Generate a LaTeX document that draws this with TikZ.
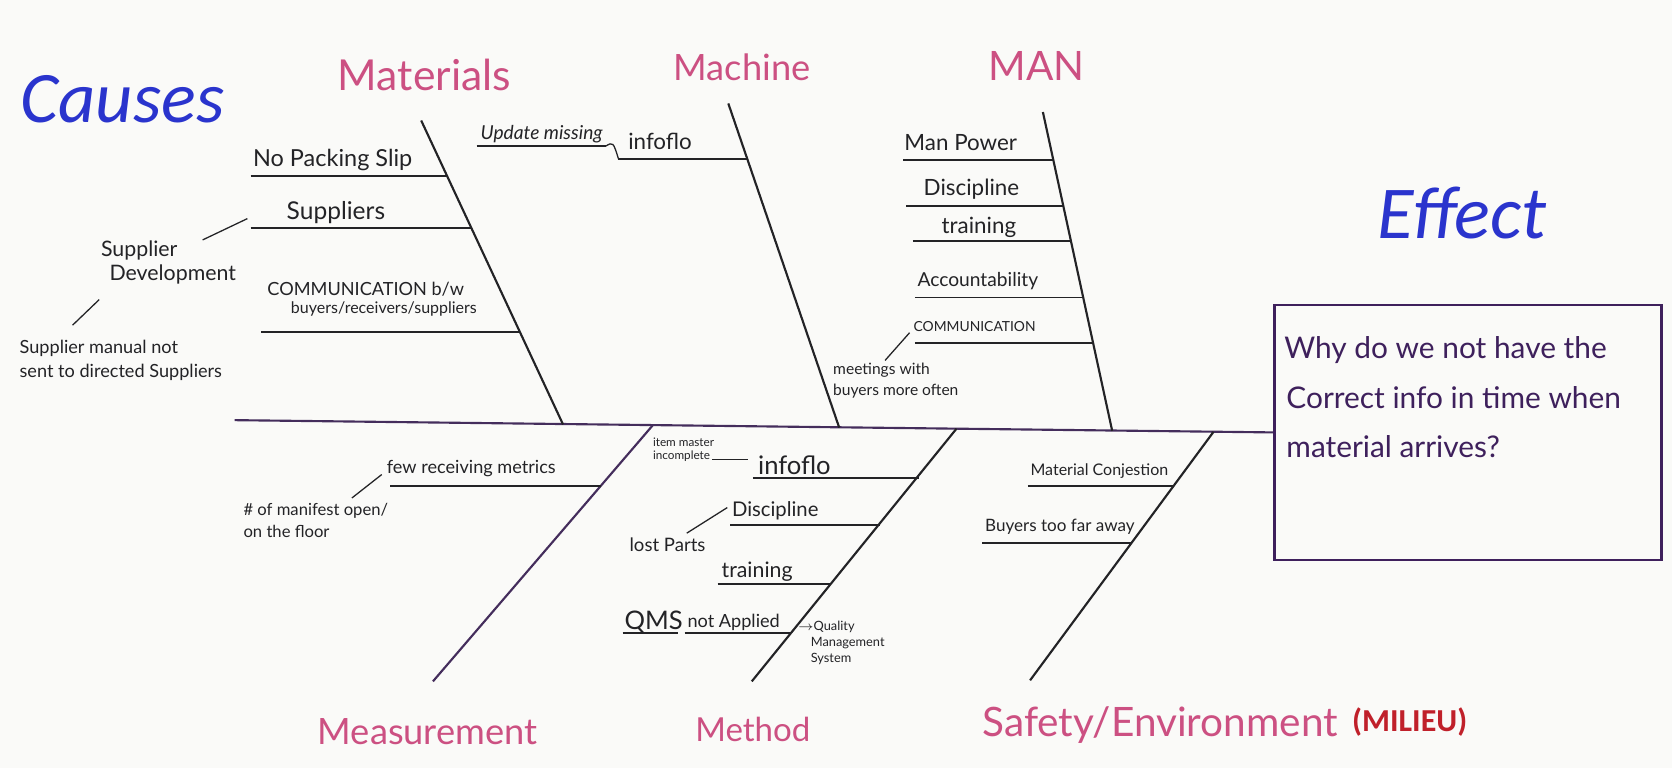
\documentclass[tikz,border=0pt]{standalone}
\usepackage{fontspec}
\setmainfont{Lato}
\newfontfamily\calib{Carlito}
\definecolor{paper}{RGB}{250,250,248}
\definecolor{ink}{RGB}{35,35,38}
\definecolor{violetink}{RGB}{68,45,92}
\definecolor{labelpink}{RGB}{204,80,130}
\definecolor{titleblue}{RGB}{42,52,205}
\definecolor{milieured}{RGB}{192,32,42}
\definecolor{qpurple}{RGB}{62,32,92}
\tikzset{
  title/.style={inner sep=0pt, text=titleblue, font=\calib\itshape\fontsize{#1}{#1}\selectfont},
  cat/.style={inner sep=0pt, text=labelpink, font=\fontsize{#1}{#1}\selectfont},
  hw/.style={inner sep=0pt, text=ink, font=\fontsize{#1}{#1}\selectfont},
  bone/.style={draw=ink, line width=1pt},
  lowbone/.style={draw=violetink, line width=1pt},
  rib/.style={draw=ink, line width=0.9pt},
  lead/.style={draw=ink, line width=0.6pt},
}
\begin{document}
\begin{tikzpicture}[x=0.5pt,y=-0.5pt]
\useasboundingbox (0,0) rectangle (1568,720);
\fill[paper] (0,0) rectangle (1568,720);

% titles
\node[title=34] (causes) at (115,93) {Causes};
\node[title=35] (effect) at (1371,200) {Effect};

% effect box
\node[draw=qpurple, line width=1.2pt, minimum width=181.5pt, minimum height=119.5pt, inner sep=0pt] (effectbox) at (1376.5,405.5) {};
\node[inner sep=0pt, text=qpurple, font=\fontsize{14}{14}\selectfont, anchor=west] (q1) at (1204,328) {Why do we not have the};
\node[inner sep=0pt, text=qpurple, font=\fontsize{14}{14}\selectfont, anchor=west] (q2) at (1206,373) {Correct info in time when};
\node[inner sep=0pt, text=qpurple, font=\fontsize{14}{14}\selectfont, anchor=west] (q3) at (1206,419) {material arrives?};

% spine
\coordinate (spineL) at (220,394);
\draw[lowbone] (spineL) -- (effectbox.west);

% bones
\coordinate (matT) at (395,113); \coordinate (matB) at (528,398);
\coordinate (macT) at (683,97);  \coordinate (macB) at (787,401);
\coordinate (manT) at (978,105); \coordinate (manB) at (1043,404);
\coordinate (meaT) at (612,399); \coordinate (meaB) at (406,639);
\coordinate (metT) at (897,402); \coordinate (metB) at (705,639);
\coordinate (safT) at (1138,405); \coordinate (safB) at (966,638);
\draw[bone] (matT) -- (matB);
\draw[bone] (macT) -- (macB);
\draw[bone] (manT) -- (manB);
\draw[lowbone] (meaT) -- (meaB);
\draw[bone] (metT) -- (metB);
\draw[bone] (safT) -- (safB);

% category labels
\node[cat=20] (materials) at (398,70) {Materials};
\node[cat=17] (machine) at (696,63) {Machine};
\node[cat=19] (man) at (972,62) {MAN};
\node[cat=17] (measurement) at (401,686) {Measurement};
\node[cat=15.5] (method) at (706,684) {Method};
\node[cat=19] (safety) at (1088,680) {Safety/Environment};
\node[inner sep=0pt, text=milieured, font=\calib\bfseries\fontsize{15}{15}\selectfont] (milieu) at (1322,677) {(MILIEU)};

% Materials ribs
\coordinate (npsS) at (235,165); \coordinate (npsE) at (419.4,165);
\coordinate (supS) at (235,214); \coordinate (supE) at (442.3,214);
\coordinate (comS) at (245,311); \coordinate (comE) at (487.7,311);
\draw[rib] (npsS) -- (npsE);
\draw[rib] (supS) -- (supE);
\draw[rib] (comS) -- (comE);
\node[hw=11] (nps) at (312,150) {No Packing Slip};
\node[hw=11.5] (sup) at (315,199) {Suppliers};
\node[hw=8.5] (com1) at (343,271) {COMMUNICATION b/w};
\node[hw=7.5] (com2) at (360,290) {buyers/receivers/suppliers};
\node[inner sep=0pt, text=ink, font=\fontsize{10}{11.5}\selectfont, align=left] (supdev) at (158,246) {Supplier\\\hspace*{4pt}Development};
\node[inner sep=0pt, text=ink, font=\fontsize{8.5}{11}\selectfont, align=left, anchor=west] (supman) at (18,338) {Supplier manual not\\sent to directed Suppliers};
\coordinate (sd1) at (190,225); \coordinate (sd2) at (232,205);
\coordinate (sd3) at (93,281);  \coordinate (sd4) at (68,305);
\draw[lead] (sd1) -- (sd2);
\draw[lead] (sd3) -- (sd4);

% Machine ribs
\coordinate (infS) at (580,149); \coordinate (infE) at (700.4,149);
\draw[rib] (infS) -- (infE);
\node[hw=10.5] (inf) at (619,133) {infoflo};
\node[inner sep=0pt, text=ink, font=\itshape\fontsize{9}{9}\selectfont] (upd) at (508,126) {Update missing};
\coordinate (updS) at (447,137); \coordinate (updE) at (568,137);
\draw[lead] (updS) -- (updE);
\draw[lead] (updE) .. controls (575,133) .. (infS);

% MAN ribs
\coordinate (mpS) at (847,150); \coordinate (mpE) at (987.9,150);
\coordinate (diS) at (850,193); \coordinate (diE) at (997.3,193);
\coordinate (trS) at (856,226); \coordinate (trE) at (1004.5,226);
\coordinate (acS) at (858,279); \coordinate (acE) at (1016.1,279);
\coordinate (cmS) at (858,322); \coordinate (cmE) at (1025.5,322);
\draw[rib] (mpS) -- (mpE);
\draw[rib] (diS) -- (diE);
\draw[rib] (trS) -- (trE);
\draw[rib] (acS) -- (acE);
\draw[rib] (cmS) -- (cmE);
\node[hw=10.5] (mp) at (901,134) {Man Power};
\node[hw=10.5] (di) at (911,177) {Discipline};
\node[hw=10.5] (tr) at (918,213) {training};
\node[hw=9] (ac) at (917,264) {Accountability};
\node[hw=6.5] (cm) at (914,306) {COMMUNICATION};
\node[inner sep=0pt, text=ink, font=\fontsize{7.3}{9.5}\selectfont, align=left, anchor=west] (meet) at (781,357) {meetings with\\buyers more often};
\coordinate (mt1) at (853,312); \coordinate (mt2) at (830,338);
\draw[lead] (mt1) -- (mt2);

% Measurement ribs
\coordinate (frS) at (366,456); \coordinate (frE) at (563.7,456);
\draw[rib] (frS) -- (frE);
\node[hw=8.5] (fr) at (442,439) {few receiving metrics};
\node[inner sep=0pt, text=ink, font=\fontsize{7.8}{10.5}\selectfont, align=left, anchor=west] (manif) at (228,488) {\# of manifest open/\\on the floor};
\coordinate (mf1) at (330,467); \coordinate (mf2) at (358,445);
\draw[lead] (mf1) -- (mf2);

% Method ribs
\coordinate (mi1S) at (706,448); \coordinate (mi1E) at (861.7,448);
\coordinate (mdS) at (685,492);  \coordinate (mdE) at (825.6,492);
\coordinate (mtrS) at (673,548); \coordinate (mtrE) at (779.7,548);
\coordinate (qmsS) at (584,594); \coordinate (qmsE) at (636,594);
\coordinate (napS) at (642,594); \coordinate (napE) at (741.9,594);
\draw[rib] (mi1S) -- (mi1E);
\draw[rib] (mdS) -- (mdE);
\draw[rib] (mtrS) -- (mtrE);
\draw[rib] (qmsS) -- (qmsE);
\draw[rib] (napS) -- (napE);
\node[hw=12] (minf) at (745,436) {infoflo};
\node[hw=9.5] (mdisc) at (727,479) {Discipline};
\node[hw=10] (mtrain) at (710,536) {training};
\node[hw=12] (qms) at (613,583) {QMS};
\node[hw=8.5] (nap) at (688,584) {not Applied};
\node[inner sep=0pt, text=ink, font=\fontsize{5.5}{6}\selectfont, align=left, anchor=west] (itm) at (612,422) {item master\\incomplete};
\coordinate (it1) at (668,431); \coordinate (it2) at (701,431);
\draw[lead] (it1) -- (it2);
\node[hw=8.7] (lost) at (626,511) {lost Parts};
\coordinate (lp1) at (644,500); \coordinate (lp2) at (682,476);
\draw[lead] (lp1) -- (lp2);
\node[inner sep=0pt, text=ink, font=\fontsize{6}{7.5}\selectfont, align=left, anchor=west] (qual) at (748,603) {$\rightarrow$Quality\\\hspace*{6pt}Management\\\hspace*{6pt}System};

% Safety ribs
\coordinate (mcS) at (964,456); \coordinate (mcE) at (1100.9,456);
\coordinate (btS) at (921,509); \coordinate (btE) at (1061.6,509);
\draw[rib] (mcS) -- (mcE);
\draw[rib] (btS) -- (btE);
\node[hw=7.5] (mc) at (1031,442) {Material Conjestion};
\node[hw=8] (bt) at (994,494) {Buyers too far away};
\end{tikzpicture}
\end{document}
